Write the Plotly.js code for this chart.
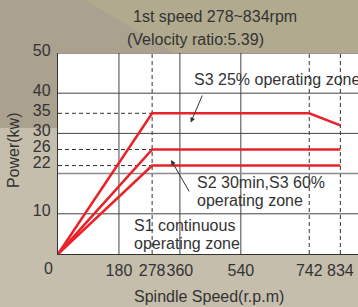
<!DOCTYPE html>
<html>
<head>
<meta charset="utf-8">
<script src="https://cdn.plot.ly/plotly-3.0.1.min.js"></script>
<style>
  html, body { margin: 0; padding: 0; }
  #wrap { position: relative; width: 358px; height: 307px; overflow: hidden; background: #c5beac; }
  #olive { position: absolute; left: 0; top: 0; width: 358px; height: 60px; background: #b1aa8e; }
  #dark { position: absolute; left: 0; top: 0; width: 358px; height: 307px; background: #aaa18f;
          clip-path: polygon(0px 0px, 85px 0px, 178px 55px, 58px 55px, 58px 128px, 0px 128px); }
  #chart { position: absolute; left: 0; top: 0; width: 358px; height: 307px; }
</style>
</head>
<body>
<div id="wrap">
  <div id="olive"></div>
  <div id="dark"></div>
  <div id="chart"></div>
</div>
<script>
// ---- data ----
const xTickVals = [180, 278, 360, 540, 742, 834];
const xTickText = ['180', '278', '360', '540', '742', '834'];
const yTickVals = [10, 22, 26, 30, 35, 40, 50];
const yTickText = ['10', '22', '26', '30', '35', '40', '50'];
const solidX = [180, 360, 540];
const dashedX = [278, 742, 834];
const solidY = [10, 30, 40];
const grayY = [20];
const dashedY = [22, 26, 35];
const s3Speed = [0, 278, 742, 834];
const s3Power = [0, 35, 35, 32];
const s2Speed = [0, 278, 834];
const s2Power = [0, 26, 26];
const s1Speed = [0, 278, 834];
const s1Power = [0, 22, 22];

const FONT = 'Liberation Sans, Arial, Helvetica, sans-serif';
const TXT = '#333333';
const RED = '#e8232a';

const xMax = 886, yMax = 50;

const shapes = [];
solidX.forEach(v => shapes.push({type: 'line', xref: 'x', yref: 'y', x0: v, x1: v, y0: 0, y1: yMax,
  line: {color: '#444444', width: 1}, layer: 'below'}));
dashedX.forEach(v => shapes.push({type: 'line', xref: 'x', yref: 'y', x0: v, x1: v, y0: 0, y1: yMax,
  line: {color: '#333333', width: 1, dash: '4px,3px'}, layer: 'below'}));
solidY.forEach(v => shapes.push({type: 'line', xref: 'x', yref: 'y', x0: 0, x1: xMax, y0: v, y1: v,
  line: {color: '#444444', width: 1}, layer: 'below'}));
grayY.forEach(v => shapes.push({type: 'line', xref: 'x', yref: 'y', x0: 0, x1: xMax, y0: v, y1: v,
  line: {color: '#8c8c8c', width: 1.5}, layer: 'below'}));
dashedY.forEach(v => shapes.push({type: 'line', xref: 'x', yref: 'y', x0: 0, x1: 278, y0: v, y1: v,
  line: {color: '#333333', width: 1, dash: '4px,3px'}, layer: 'below'}));
// top border
shapes.push({type: 'line', xref: 'x', yref: 'y', x0: 0, x1: xMax, y0: yMax, y1: yMax,
  line: {color: '#333333', width: 1.2}});

const traces = [
  {x: s3Speed, y: s3Power, name: 'S3 25%', mode: 'lines', line: {color: RED, width: 2.6}},
  {x: s2Speed, y: s2Power, name: 'S2', mode: 'lines', line: {color: RED, width: 2.6}},
  {x: s1Speed, y: s1Power, name: 'S1', mode: 'lines', line: {color: RED, width: 2.6}}
];

const tf = {family: FONT, size: 16, color: TXT};
const annotations = [
  {xref: 'paper', yref: 'paper', x: 0.2433, y: 1.1806, xanchor: 'left', yanchor: 'middle',
   text: '1st speed 278~834rpm', showarrow: false, font: tf},
  {xref: 'paper', yref: 'paper', x: 0.2233, y: 1.068, xanchor: 'left', yanchor: 'middle',
   text: '(Velocity ratio:5.39)', showarrow: false, font: tf},
  {xref: 'paper', yref: 'paper', x: 0.5017, y: -0.2124, xanchor: 'center', yanchor: 'middle',
   text: 'Spindle Speed(r.p.m)', showarrow: false, font: tf},
  {xref: 'paper', yref: 'paper', x: -0.15, y: 0.517, xanchor: 'center', yanchor: 'middle',
   text: 'Power(kw)', textangle: -90, showarrow: false, font: tf},
  {xref: 'x', yref: 'y', x: 0, y: 0, xshift: -10, yshift: -14, xanchor: 'center', yanchor: 'middle',
   text: '0', showarrow: false, font: tf},
  {xref: 'x', yref: 'y', x: 395.7, y: 43.3, xanchor: 'left', yanchor: 'middle',
   text: 'S3 25% operating zone', showarrow: false, font: tf},
  {xref: 'x', yref: 'y', x: 391.9, y: 32.7, axref: 'x', ayref: 'y', ax: 428, ay: 39.8,
   text: '', showarrow: true, arrowhead: 2, arrowsize: 1, arrowwidth: 1, arrowcolor: '#333333'},
  {xref: 'x', yref: 'y', x: 404.6, y: 17.7, xanchor: 'left', yanchor: 'middle',
   text: 'S2 30min,S3 60%', showarrow: false, font: tf},
  {xref: 'x', yref: 'y', x: 404.6, y: 13.2, xanchor: 'left', yanchor: 'middle',
   text: 'operating zone', showarrow: false, font: tf},
  {xref: 'x', yref: 'y', x: 333.7, y: 23.4, axref: 'x', ayref: 'y', ax: 389.8, ay: 15.2,
   text: '', showarrow: true, arrowhead: 2, arrowsize: 1, arrowwidth: 1, arrowcolor: '#333333'},
  {xref: 'x', yref: 'y', x: 217.7, y: 7.2, xanchor: 'left', yanchor: 'middle',
   text: 'S1 continuous', showarrow: false, font: tf},
  {xref: 'x', yref: 'y', x: 217.7, y: 2.56, xanchor: 'left', yanchor: 'middle',
   text: 'operating zone', showarrow: false, font: tf}
];

const layout = {
  width: 358, height: 307,
  margin: {l: 58, r: 0, t: 53, b: 53, pad: 0},
  paper_bgcolor: 'rgba(0,0,0,0)',
  plot_bgcolor: '#ffffff',
  showlegend: false,
  font: {family: FONT, size: 16, color: TXT},
  xaxis: {range: [0, xMax], tickvals: xTickVals, ticktext: xTickText, tickangle: 0, showgrid: false, zeroline: false,
          showline: true, linecolor: '#333333', linewidth: 1.2, ticks: 'outside', ticklen: 2,
          tickcolor: 'rgba(0,0,0,0)', tickfont: tf, fixedrange: true},
  yaxis: {range: [0, yMax], tickvals: yTickVals, ticktext: yTickText, showgrid: false, zeroline: false,
          showline: true, linecolor: '#333333', linewidth: 1.2, ticks: 'outside', ticklen: 3,
          tickcolor: 'rgba(0,0,0,0)', tickfont: tf, ticklabelshift: -3, fixedrange: true},
  shapes: shapes,
  annotations: annotations
};

Plotly.newPlot('chart', traces, layout, {displayModeBar: false, staticPlot: true});
</script>
</body>
</html>
